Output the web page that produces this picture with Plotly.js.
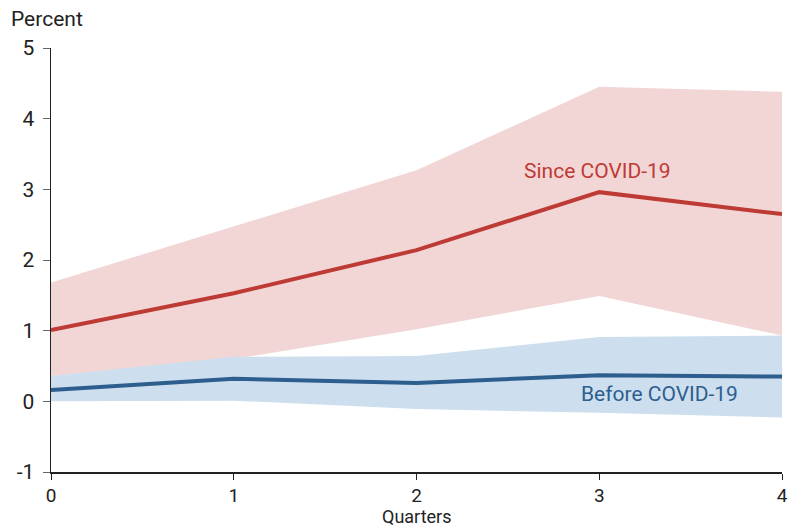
<!DOCTYPE html>
<html>
<head>
<meta charset="utf-8">
<script src="https://cdn.plot.ly/plotly-3.0.1.min.js"></script>
<style>html,body{margin:0;padding:0;background:#fff;}#chart{width:793px;height:529px;}</style>
</head>
<body>
<div id="chart"></div>
<script>
const quarters = [0, 1, 2, 3, 4];
const sinceMean = [1.01, 1.53, 2.14, 2.96, 2.65];
const sinceUpper = [1.68, 2.48, 3.27, 4.45, 4.38];
const sinceLower = [0.36, 0.60, 1.02, 1.49, 0.93];
const beforeMean = [0.16, 0.32, 0.26, 0.37, 0.35];
const beforeUpper = [0.36, 0.63, 0.64, 0.91, 0.93];
const beforeLower = [0.00, 0.01, -0.11, -0.16, -0.23];
const yTicks = [-1, 0, 1, 2, 3, 4, 5];

const red = '#be3a34', redBand = '#f2d6d6';
const blue = '#2d5e8e', blueBand = '#cddfee';

const traces = [
  {x: quarters, y: sinceLower, mode: 'lines', line: {width: 0}, hoverinfo: 'skip', showlegend: false},
  {x: quarters, y: sinceUpper, mode: 'lines', line: {width: 0}, fill: 'tonexty', fillcolor: redBand, hoverinfo: 'skip', showlegend: false},
  {x: quarters, y: beforeLower, mode: 'lines', line: {width: 0}, hoverinfo: 'skip', showlegend: false},
  {x: quarters, y: beforeUpper, mode: 'lines', line: {width: 0}, fill: 'tonexty', fillcolor: blueBand, hoverinfo: 'skip', showlegend: false},
  {x: quarters, y: sinceMean, mode: 'lines', line: {color: red, width: 4}, name: 'Since COVID-19', showlegend: false},
  {x: quarters, y: beforeMean, mode: 'lines', line: {color: blue, width: 4}, name: 'Before COVID-19', showlegend: false}
];

const layout = {
  width: 793, height: 529,
  margin: {l: 51, r: 11, t: 48, b: 57},
  paper_bgcolor: '#fff', plot_bgcolor: '#fff',
  font: {family: 'Roboto, sans-serif', color: '#222', size: 21},
  xaxis: {
    range: [0, 4], tickvals: quarters, ticktext: quarters.map(String),
    showgrid: false, zeroline: false, showline: true, linecolor: '#222', linewidth: 1.5,
    ticks: 'outside', ticklen: 6, tickcolor: '#222',
    tickfont: {size: 19}
  },
  yaxis: {
    range: [-1, 5], tickvals: yTicks, ticktext: yTicks.map(String),
    showgrid: false, zeroline: false, showline: true, linecolor: '#222', linewidth: 1.5,
    ticks: 'outside', ticklen: 7, tickcolor: '#666',
    tickfont: {size: 21}, ticklabelstandoff: 4
  },
  annotations: [
    {xref: 'paper', yref: 'paper', x: -0.058, y: 1.035, xanchor: 'left', yanchor: 'bottom', text: 'Percent', showarrow: false, font: {size: 21, color: '#222'}},
    {xref: 'paper', yref: 'paper', x: 0.5, y: -0.131, xanchor: 'center', yanchor: 'bottom', borderpad: 0, text: 'Quarters', showarrow: false, font: {size: 18, color: '#222'}},
    {x: 2.99, y: 3.26, text: 'Since COVID-19', showarrow: false, font: {size: 21, color: red}},
    {x: 3.33, y: 0.10, text: 'Before COVID-19', showarrow: false, font: {size: 21, color: blue}}
  ]
};

Plotly.newPlot('chart', traces, layout, {displayModeBar: false, staticPlot: true});
</script>
</body>
</html>
